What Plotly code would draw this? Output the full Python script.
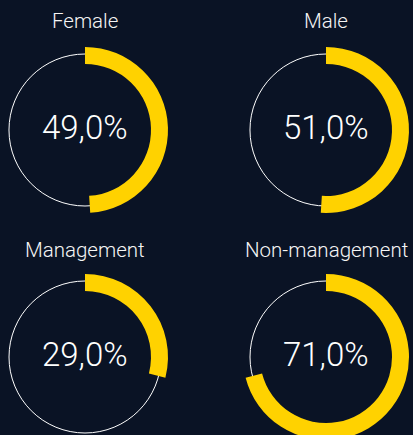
import plotly.graph_objects as go

# ---- data ----
categories = ["Female", "Male", "Management", "Non-management"]
shares = [49.0, 51.0, 29.0, 71.0]

# ---- layout / style ----
W, H = 413, 445          # slightly taller than the window: bottom ring is cut at the edge
BG = "#0a1325"
YELLOW = "#ffd200"
TEXT = "#f5f5f5"
FONT = "Roboto"
centers = [(85, 130), (326, 130), (85, 357), (326, 357)]
title_y = [21, 21, 250, 250]
R_OUT, R_IN, R_LINE = 83, 66, 76


def dom(cx, cy, r):
    return dict(x=[(cx - r) / W, (cx + r) / W], y=[1 - (cy + r) / H, 1 - (cy - r) / H])


fig = go.Figure()
annotations = []
for cat, v, (cx, cy), ty in zip(categories, shares, centers, title_y):
    # thin white full circle
    fig.add_trace(go.Pie(
        values=[100], sort=False, textinfo="none", hoverinfo="skip",
        marker=dict(colors=["rgba(0,0,0,0)"], line=dict(color="#ffffff", width=1)),
        domain=dom(cx, cy, R_LINE), showlegend=False,
    ))
    # thick yellow arc
    fig.add_trace(go.Pie(
        values=[v, 100 - v], sort=False, direction="clockwise", rotation=0,
        hole=R_IN / R_OUT, textinfo="none", hoverinfo="skip",
        marker=dict(colors=[YELLOW, "rgba(0,0,0,0)"], line=dict(width=0)),
        domain=dom(cx, cy, R_OUT), showlegend=False,
    ))
    annotations.append(dict(
        x=cx / W, y=1 - (cy - 3) / H, xref="paper", yref="paper",
        text=f"{v:.1f}%".replace(".", ","), showarrow=False,
        xanchor="center", yanchor="middle",
        font=dict(family=FONT, size=33, color="#ffffff", weight=300),
    ))
    annotations.append(dict(
        x=cx / W, y=1 - ty / H, xref="paper", yref="paper",
        text=cat, showarrow=False, xanchor="center", yanchor="middle",
        font=dict(family=FONT, size=20.5, color=TEXT, weight=300),
    ))

fig.update_layout(
    width=W, height=H, margin=dict(l=0, r=0, t=0, b=0),
    paper_bgcolor=BG, plot_bgcolor=BG, showlegend=False,
    annotations=annotations,
)
fig.write_html(
    "out.html",
    config={"displayModeBar": False, "staticPlot": True},
    post_script=(
        "document.documentElement.style.margin='0';"
        "document.body.style.margin='0';"
        "document.body.style.overflow='hidden';"
        f"document.body.style.background='{BG}';"
    ),
)
